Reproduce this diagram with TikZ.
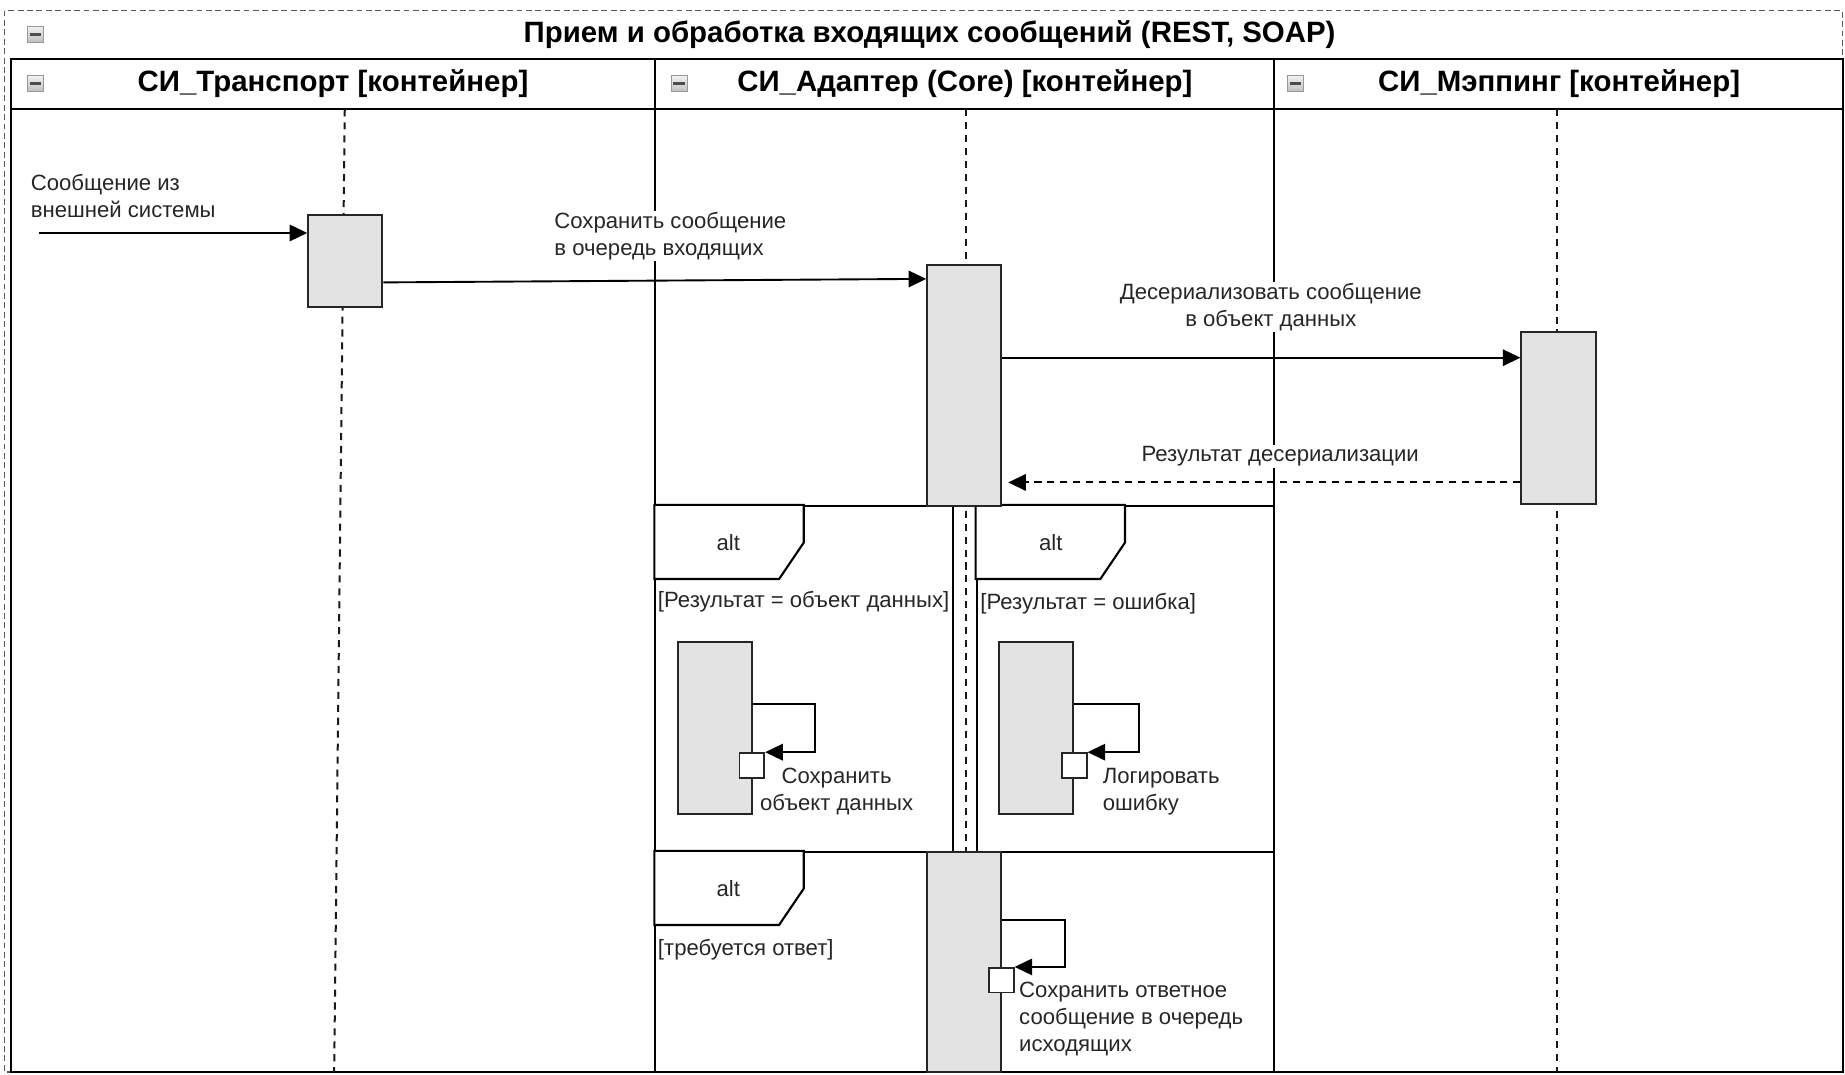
\documentclass[tikz,border=0pt]{standalone}
\usepackage{fontspec}
\setmainfont{Liberation Sans}
\usetikzlibrary{calc}
\usetikzlibrary{arrows.meta}

\begin{document}
\begin{tikzpicture}[x=1pt, y=-1pt,
		lbl/.style={font=\fontsize{18.8}{23}\selectfont, text=black!85, inner sep=1pt},
		hdr/.style={font=\bfseries\fontsize{25}{28}\selectfont},
		act/.style={draw=black!85, fill=black!11, line width=1.7pt, minimum width=63pt, inner sep=0pt},
		callbox/.style={draw=black!85, fill=white, line width=1.5pt, minimum size=21pt, inner sep=0pt},
		lifeline/.style={black!90, line width=1.7pt, dash pattern=on 6pt off 5pt},
		msg/.style={line width=1.6pt, -{Triangle[length=15pt,width=14pt]}},
		reply/.style={msg, dash pattern=on 6pt off 5pt},
		lane/.style={draw, line width=1.8pt},
		altframe/.style={draw, line width=1.8pt, inner sep=0pt},
		alttab/.style={draw, fill=white, line width=1.8pt},
		minusbox/.style={draw=gray!80, top color=gray!10, bottom color=gray!50, minimum size=13.5pt, inner sep=0pt,
			path picture={\draw[line width=2.6pt, black!70] ([xshift=2pt]path picture bounding box.west) -- ([xshift=-2pt]path picture bounding box.east);}}]
	\useasboundingbox (0,0) rectangle (1568,913);
	
	% frame and lanes
	\draw[black!65, line width=1.3pt, dash pattern=on 5pt off 3pt] (4,9) rectangle (1566,911);
	\draw[lane] (9,50) rectangle (557,911);
	\draw[lane] (557,50) rectangle (1083,911);
	\draw[lane] (1083,50) rectangle (1566,911);
	\draw[lane] (9,93) -- (1566,93);
	
	\node[minusbox] (ic0) at (30,29) {};
	\node[hdr] (title) at (790,29) {Прием и обработка входящих сообщений (REST, SOAP)};
	\node[minusbox] (ic1) at (30,71) {};
	\node[minusbox] (ic2) at (577,71) {};
	\node[minusbox] (ic3) at (1101,71) {};
	\node[hdr] (h1) at (283,71) {СИ\_Транспорт [контейнер]};
	\node[hdr] (h2) at (820,71) {СИ\_Адаптер (Core) [контейнер]};
	\node[hdr] (h3) at (1325,71) {СИ\_Мэппинг [контейнер]};
	
	% lifelines
	\coordinate (tTop) at (293,93);
	\coordinate (tBot) at (284,911);
	\coordinate (aTop) at (821,93);
	\coordinate (aBot) at (821,911);
	\coordinate (mTop) at (1323,93);
	\coordinate (mBot) at (1323,911);
	\draw[lifeline] (tTop) -- (tBot);
	\draw[lifeline] (aTop) -- (aBot);
	\draw[lifeline] (mTop) -- (mBot);
	
	% alt fragments
	\node[altframe, minimum width=253pt, minimum height=294pt] (alt1) at (683.5,577) {};
	\node[altframe, minimum width=253pt, minimum height=294pt] (alt2) at (956.5,577) {};
	\node[altframe, minimum width=526pt, minimum height=187pt] (alt3) at (820,817.5) {};
	\draw[alttab] (alt1.north west) -- ++(127,0) -- ++(0,32) -- ++(-21,31) -- ++(-106,0) -- cycle;
	\draw[alttab] (alt2.north west) -- ++(127,0) -- ++(0,32) -- ++(-21,31) -- ++(-106,0) -- cycle;
	\draw[alttab] (alt3.north west) -- ++(127,0) -- ++(0,32) -- ++(-21,31) -- ++(-106,0) -- cycle;
	\node[lbl] (t1) at (619,461) {alt};
	\node[lbl] (t2) at (893,461) {alt};
	\node[lbl] (t3) at (619,755) {alt};
	\node[lbl, anchor=west] (c1) at (558,511) {[Результат = объект данных]};
	\node[lbl, anchor=west] (c2) at (832,513) {[Результат = ошибка]};
	\node[lbl, anchor=west] (c3) at (558,807) {[требуется ответ]};
	
	% activations
	\node[act, minimum height=78pt] (T1) at (293.5,222) {};
	\node[act, minimum height=205pt] (A1) at (819.5,327.5) {};
	\node[act, minimum height=146pt] (M1) at (1324.5,355) {};
	\node[act, minimum height=146pt] (in1) at (607.5,619) {};
	\node[act, minimum height=146pt] (in2) at (880.5,619) {};
	\node[act, minimum height=187pt] (A2) at (819.5,817.5) {};
	\node[callbox] (sq1) at (639,650.5) {};
	\node[callbox] (sq2) at (913,650.5) {};
	\node[callbox] (sq3) at (851,833) {};
	
	% messages
	\coordinate (ext) at (33,198);
	\draw[msg] (ext) -- ([yshift=24pt]T1.west);
	\draw[msg] ([yshift=-18pt]T1.east) -- ([yshift=90.5pt]A1.west);
	\draw[msg] ([yshift=23.5pt]A1.east) -- ([yshift=51pt]M1.west);
	\draw[reply, shorten >=5pt] ([yshift=-55pt]M1.west) -- ([yshift=-82.5pt]A1.east);
	\draw[msg] ([yshift=21pt]in1.east) -- ++(53,0) |- (sq1.north east);
	\draw[msg] ([yshift=21pt]in2.east) -- ++(55,0) |- (sq2.north east);
	\draw[msg] ([yshift=35.5pt]A2.east) -- ++(53,0) |- (sq3.north east);
	
	\node[lbl, anchor=west, align=left] (lExt) at (25,166.5) {Сообщение из\\внешней системы};
	\node[lbl, anchor=west, align=left, fill=white] (lM1) at (470,200.5) {Сохранить сообщение\\в очередь входящих};
	\node[lbl, align=center, fill=white] (lM2) at (1080,261) {Десериализовать сообщение\\в объект данных};
	\node[lbl, fill=white] (lR1) at (1088,388) {Результат десериализации};
	\node[lbl, align=center] (lS1) at (711,672.5) {Сохранить\\объект данных};
	\node[lbl, anchor=west, align=left] (lS2) at (936,672.5) {Логировать\\ошибку};
	\node[lbl, anchor=west, align=left] (lS3) at (865,866) {Сохранить ответное\\сообщение в очередь\\исходящих};
\end{tikzpicture}
\end{document}
